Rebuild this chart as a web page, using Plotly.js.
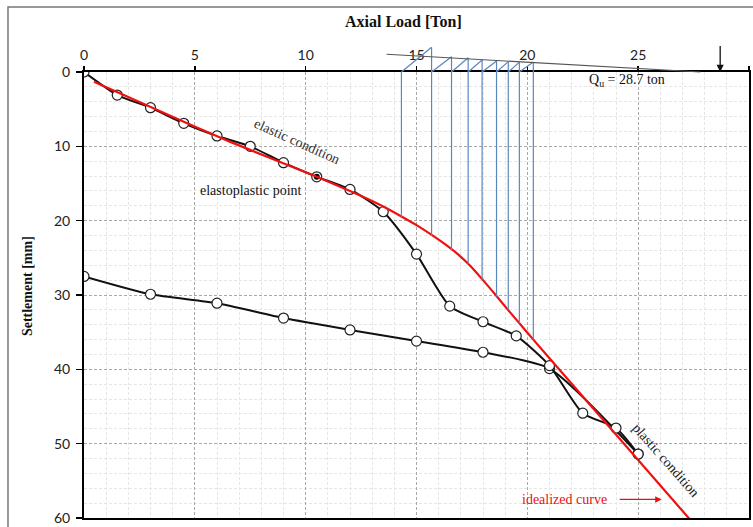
<!DOCTYPE html>
<html><head><meta charset="utf-8">
<script src="https://cdn.plot.ly/plotly-3.0.1.min.js"></script>
<style>html,body{margin:0;padding:0;background:#fff}#chart{width:753px;height:527px}</style>
</head><body><div id="chart"></div>
<script>
// Loading branch (axial load [ton], settlement [mm])
const loadX = [0, 1.5, 3, 4.5, 6, 7.5, 9, 10.5, 12, 13.5, 15, 16.5, 18, 19.5, 21, 22.5, 24, 25];
const loadY = [0, 3.1, 4.8, 6.9, 8.6, 10.0, 12.2, 14.1, 15.8, 18.8, 24.5, 31.5, 33.6, 35.5, 39.5, 45.9, 47.9, 51.4];
// Unloading branch
const unloadX = [25, 21, 18, 15, 12, 9, 6, 3, 0];
const unloadY = [51.4, 39.9, 37.7, 36.2, 34.7, 33.1, 31.1, 29.9, 27.5];
// Elastoplastic point
const epX = [10.5];
const epY = [14.1];
// Idealized (red) curve
const idealX = [0.45, 4.5, 6.6, 10.5, 12.0, 13.0, 13.5, 14.3, 15.0, 15.7, 16.3, 16.9, 17.4, 18.0, 18.6, 19.1, 19.7, 20.3, 21.0, 27.6];
const idealY = [1.3, 6.7, 9.4, 14.1, 16.0, 17.35, 18.1, 19.4, 20.6, 21.95, 23.2, 24.6, 26.0, 28.0, 30.1, 31.9, 34.0, 36.1, 38.5, 61.1];
// Blue construction lines: x position, top (mm, negative = above axis), bottom (mm)
const blueX = [14.32, 15.68, 16.58, 17.33, 17.96, 18.61, 19.14, 19.64, 20.27];
const blueTop = [0, -3.32, -2.06, -1.92, -1.62, -1.48, -1.39, -1.33, -1.36];
const blueBottom = [19.6, 22.0, 24.0, 25.8, 28.0, 30.2, 32.0, 33.8, 36.0];
// Grey reference line above the axis
const greyX = [13.65, 27.8];
const greyY = [-2.38, 0];
// Ultimate load
const Qu = 28.7;
// Axis ticks
const xTicks = [0, 5, 10, 15, 20, 25, 30];
const yTicks = [0, 10, 20, 30, 40, 50, 60];

const Y_MAX = 60;
const yp = mm => (Y_MAX - mm) / Y_MAX;

const serif = 'Liberation Serif, Times New Roman, serif';
const tickFont = {family: 'Lato, Open Sans, sans-serif', size: 14, color: '#222'};

const traces = [
  {x: unloadX, y: unloadY, mode: 'lines+markers', type: 'scatter',
   line: {color: '#111', width: 2, shape: 'spline', smoothing: 0.6},
   marker: {symbol: 'circle', size: 10, color: '#fff', line: {color: '#222', width: 1.2}}},
  {x: loadX, y: loadY, mode: 'lines+markers', type: 'scatter',
   line: {color: '#111', width: 2, shape: 'spline', smoothing: 0.6},
   marker: {symbol: 'circle', size: 10, color: '#fff', line: {color: '#222', width: 1.2}}},
  {x: epX, y: epY, mode: 'markers', type: 'scatter',
   marker: {symbol: 'circle', size: 6, color: '#000'}},
  {x: idealX, y: idealY, mode: 'lines', type: 'scatter',
   line: {color: '#f01010', width: 2.2, shape: 'spline', smoothing: 0.8}}
];

const shapes = [];
const blue = {color: '#5a86c0', width: 1.2};
for (let i = 0; i < blueX.length; i++) {
  shapes.push({type: 'line', xref: 'x', yref: 'paper', x0: blueX[i], x1: blueX[i],
    y0: yp(blueBottom[i]), y1: yp(blueTop[i]), line: blue, layer: 'above'});
  if (i > 0) {
    shapes.push({type: 'line', xref: 'x', yref: 'paper', x0: blueX[i - 1], x1: blueX[i],
      y0: yp(0), y1: yp(blueTop[i]), line: blue, layer: 'above'});
  }
}
shapes.push({type: 'line', xref: 'x', yref: 'paper', x0: greyX[0], x1: greyX[1],
  y0: yp(greyY[0]), y1: yp(greyY[1]), line: {color: '#555', width: 1.1}, layer: 'above'});
// outer frame
shapes.push({type: 'rect', xref: 'paper', yref: 'paper', x0: -0.1143, x1: 1.05, y0: -0.05, y1: 1.1457,
  line: {color: '#777', width: 1.5}, layer: 'above'});

const annotations = [
  {xref: 'paper', yref: 'paper', x: 0.48, y: 1.114, xanchor: 'center', yanchor: 'middle',
   text: '<b>Axial Load [Ton]</b>', showarrow: false,
   font: {family: serif, size: 16, color: '#111'}},
  {xref: 'paper', yref: 'paper', x: -0.0857, y: 0.52, xanchor: 'center', yanchor: 'middle',
   text: '<b>Settlement [mm]</b>', showarrow: false,
   textangle: -90, font: {family: serif, size: 14, color: '#111'}},
  {x: 9.61, y: 9.3, text: 'elastic condition', showarrow: false, textangle: 24,
   font: {family: serif, size: 14, color: '#333'}},
  {x: 7.55, y: 16.0, text: 'elastoplastic point', showarrow: false,
   font: {family: serif, size: 14, color: '#111'}},
  {x: 26.25, y: 52.3, text: 'plastic condition', showarrow: false, textangle: 48.5,
   font: {family: serif, size: 14, color: '#222'}},
  {x: 21.67, y: 57.5, text: 'idealized curve', showarrow: false,
   font: {family: serif, size: 14, color: '#e81010'}},
  {x: 26.06, y: 57.5, ax: -44, ay: 0, text: '&nbsp;', showarrow: true, arrowhead: 2, arrowsize: 1,
   arrowwidth: 1.3, arrowcolor: '#e81010', font: {size: 4}},
  {x: 24.5, y: 1.1, text: 'Q<sub>u</sub> = ' + Qu + ' ton', showarrow: false,
   font: {family: serif, size: 14, color: '#111'}},
  {x: Qu, xref: 'x', yref: 'paper', y: yp(0), ax: 0, ay: -30, text: '&nbsp;', showarrow: true,
   arrowhead: 2, arrowsize: 1.1, arrowwidth: 1.3, arrowcolor: '#111', font: {size: 4}}
];

const layout = {
  width: 753, height: 527,
  margin: {l: 84, r: 4, t: 72, b: 9},
  paper_bgcolor: '#fff', plot_bgcolor: '#fff',
  showlegend: false,
  xaxis: {side: 'top', range: [0, 30], tickvals: xTicks, ticks: 'outside', ticklen: 4, tickwidth: 1.5,
    tickcolor: '#000', showline: true, linecolor: '#000', linewidth: 2, mirror: true,
    showgrid: true, gridcolor: '#a8a8a8', griddash: '3px,2px', gridwidth: 1, zeroline: false,
    tickfont: tickFont,
    minor: {dtick: 1, showgrid: true, gridcolor: '#e6e6e6', gridwidth: 1}},
  yaxis: {range: [60, 0], tickvals: yTicks, ticks: 'outside', ticklen: 6, tickwidth: 1.5,
    ticklabelstandoff: 3,
    tickcolor: '#000', showline: true, linecolor: '#000', linewidth: 2, mirror: true,
    showgrid: true, gridcolor: '#a8a8a8', griddash: '3px,2px', gridwidth: 1, zeroline: false,
    tickfont: tickFont,
    minor: {dtick: 2, showgrid: true, gridcolor: '#e6e6e6', gridwidth: 1}},
  shapes: shapes,
  annotations: annotations
};

Plotly.newPlot('chart', traces, layout, {staticPlot: true, displayModeBar: false});
</script></body></html>
